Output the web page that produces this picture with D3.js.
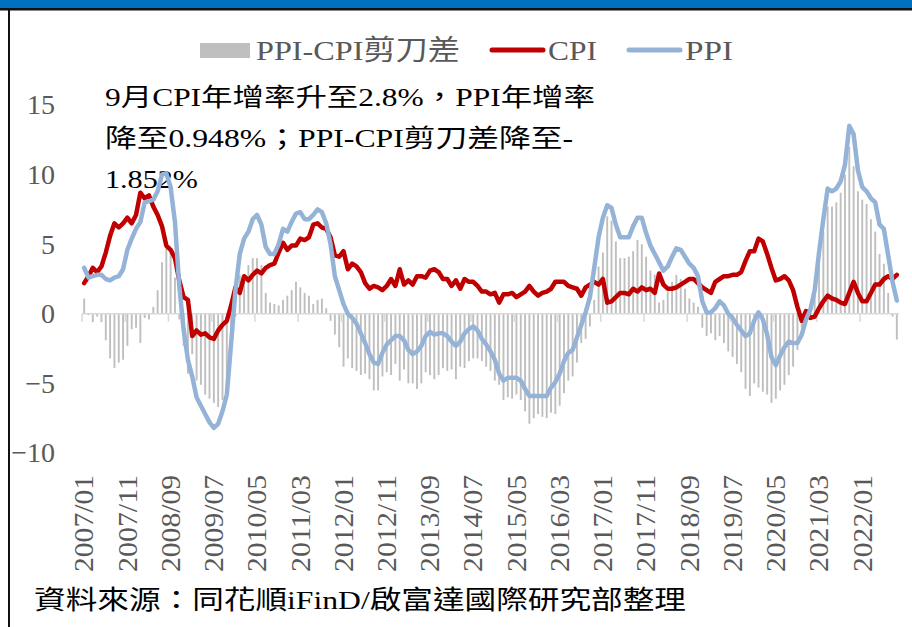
<!DOCTYPE html>
<html>
<head>
<meta charset="utf-8">
<script src="https://cdn.jsdelivr.net/npm/d3@7"></script>
<style>
  body { margin: 0; background: #fff; }
  svg { display: block; }
</style>
</head>
<body>
<script>
var svgWidth = 912;
var svgHeight = 627;

// monthly categories 2007/01 .. 2022/09
var months = [];
d3.range(2007, 2023).forEach(function(yr) {
  d3.range(1, 13).forEach(function(m) {
    if (yr === 2022 && m > 9) return;
    months.push(yr + "/" + (m < 10 ? "0" + m : m));
  });
});

var tickLabels = ["2007/01", "2007/11", "2008/09", "2009/07", "2010/05", "2011/03",
  "2012/01", "2012/11", "2013/09", "2014/07", "2015/05", "2016/03", "2017/01",
  "2017/11", "2018/09", "2019/07", "2020/05", "2021/03", "2022/01"];

var yTicks = [-10, -5, 0, 5, 10, 15];

// CPI year-on-year, %
var cpi = [
  2.2, 2.7, 3.3, 3.0, 3.4, 4.4, 5.6, 6.5, 6.2, 6.5, 6.9, 6.5,
  7.1, 8.7, 8.3, 8.5, 7.7, 7.1, 6.3, 4.9, 4.6, 4.0, 2.4, 1.2,
  1.0, -1.6, -1.2, -1.5, -1.4, -1.7, -1.8, -1.2, -0.8, -0.5, 0.6, 1.9,
  1.5, 2.7, 2.4, 2.8, 3.1, 2.9, 3.3, 3.5, 3.6, 4.4, 5.1, 4.6,
  4.9, 4.9, 5.4, 5.3, 5.5, 6.4, 6.5, 6.2, 6.1, 5.5, 4.2, 4.1,
  4.5, 3.2, 3.6, 3.4, 3.0, 2.2, 1.8, 2.0, 1.9, 1.7, 2.0, 2.5,
  2.0, 3.2, 2.1, 2.4, 2.1, 2.7, 2.7, 2.6, 3.1, 3.2, 3.0, 2.5,
  2.5, 2.0, 2.4, 1.8, 2.5, 2.3, 2.3, 2.0, 1.6, 1.6, 1.4, 1.5,
  0.8, 1.4, 1.4, 1.5, 1.2, 1.4, 1.6, 2.0, 1.6, 1.3, 1.5, 1.6,
  1.8, 2.3, 2.3, 2.3, 2.0, 1.9, 1.8, 1.3, 1.9, 2.1, 2.3, 2.1,
  2.5, 0.8, 0.9, 1.2, 1.5, 1.5, 1.4, 1.8, 1.6, 1.9, 1.7, 1.8,
  1.5, 2.9, 2.1, 1.8, 1.8, 1.9, 2.1, 2.3, 2.5, 2.5, 2.2, 1.9,
  1.7, 1.5, 2.3, 2.5, 2.7, 2.7, 2.8, 2.8, 3.0, 3.8, 4.5, 4.5,
  5.4, 5.2, 4.3, 3.3, 2.4, 2.5, 2.7, 2.4, 1.7, 0.5, -0.5, 0.2,
  -0.3, -0.2, 0.4, 0.9, 1.3, 1.1, 1.0, 0.8, 0.7, 1.5, 2.3, 1.5,
  0.9, 0.9, 1.5, 2.1, 2.1, 2.5, 2.7, 2.5, 2.8
];

// PPI year-on-year, %
var ppi = [
  3.3, 2.6, 2.7, 2.8, 2.8, 2.5, 2.4, 2.6, 2.7, 3.2, 4.6, 5.4,
  6.1, 6.6, 8.0, 8.1, 8.2, 8.8, 10.0, 10.1, 9.1, 6.6, 2.0, -1.1,
  -3.3, -4.5, -6.0, -6.6, -7.2, -7.8, -8.2, -7.9, -7.0, -5.8, -2.1, 1.7,
  4.3, 5.4, 5.9, 6.8, 7.1, 6.4, 4.8, 4.3, 4.3, 5.0, 6.1, 5.9,
  6.6, 7.2, 7.3, 6.8, 6.8, 7.1, 7.5, 7.3, 6.5, 5.0, 2.7, 1.7,
  0.7, 0.0, -0.3, -0.7, -1.4, -2.1, -2.9, -3.5, -3.6, -2.8, -2.2, -1.9,
  -1.6, -1.6, -1.9, -2.6, -2.9, -2.7, -2.3, -1.6, -1.3, -1.5, -1.4, -1.4,
  -1.6, -2.0, -2.3, -2.0, -1.4, -1.1, -0.9, -1.2, -1.8, -2.2, -2.7, -3.3,
  -4.3, -4.8, -4.6, -4.6, -4.6, -4.8, -5.4, -5.9, -5.9, -5.9, -5.9, -5.9,
  -5.3, -4.9, -4.3, -3.4, -2.8, -2.6, -1.7, -0.8, 0.1, 1.2, 3.3, 5.5,
  6.9, 7.8, 7.6, 6.4, 5.5, 5.5, 5.5, 6.3, 6.9, 6.9, 5.8, 4.9,
  4.3, 3.7, 3.1, 3.4, 4.1, 4.7, 4.6, 4.1, 3.6, 3.3, 2.7, 0.9,
  0.1, 0.1, 0.4, 0.9, 0.6, 0.0, -0.3, -0.8, -1.2, -1.6, -1.4, -0.5,
  0.1, -0.4, -1.5, -3.1, -3.7, -3.0, -2.4, -2.0, -2.1, -2.1, -1.5, -0.4,
  0.3, 1.7, 4.4, 6.8, 9.0, 8.8, 9.0, 9.5, 10.7, 13.5, 12.9, 10.3,
  9.1, 8.8, 8.3, 8.0, 6.4, 6.1, 4.2, 2.3, 0.948
];

// PPI-CPI scissors gap, %
var gap = [
  1.1, -0.1, -0.6, -0.2, -0.6, -1.9, -3.2, -3.9, -3.5, -3.3, -2.3, -1.1,
  -1.0, -2.1, -0.3, -0.4, 0.5, 1.7, 3.7, 5.2, 4.5, 2.6, -0.4, -2.3,
  -4.3, -2.9, -4.8, -5.1, -5.8, -6.1, -6.4, -6.7, -6.2, -5.3, -2.7, -0.2,
  2.8, 2.7, 3.5, 4.0, 4.0, 3.5, 1.5, 0.8, 0.7, 0.6, 1.0, 1.3,
  1.7, 2.3, 1.9, 1.5, 1.3, 0.7, 1.0, 1.1, 0.4, -0.5, -1.5, -2.4,
  -3.8, -3.2, -3.9, -4.1, -4.4, -4.3, -4.7, -5.5, -5.5, -4.5, -4.2, -4.4,
  -3.6, -4.8, -4.0, -5.0, -5.0, -5.4, -5.0, -4.2, -4.4, -4.7, -4.4, -3.9,
  -4.1, -4.0, -4.7, -3.8, -3.9, -3.4, -3.2, -3.2, -3.4, -3.8, -4.1, -4.8,
  -5.1, -6.2, -6.0, -6.1, -5.8, -6.2, -7.0, -7.9, -7.5, -7.2, -7.4, -7.5,
  -7.1, -7.2, -6.6, -5.7, -4.8, -4.5, -3.5, -2.1, -1.8, -0.9, 1.0, 3.4,
  4.4, 7.0, 6.7, 5.2, 4.0, 4.0, 4.1, 4.5, 5.3, 5.0, 4.1, 3.1,
  2.8, 0.8, 1.0, 1.6, 2.3, 2.8, 2.5, 1.8, 1.1, 0.8, 0.5, -1.0,
  -1.6, -1.4, -1.9, -1.6, -2.1, -2.7, -3.1, -3.6, -4.2, -5.4, -5.9, -5.0,
  -5.3, -5.6, -5.8, -6.4, -6.1, -5.5, -5.1, -4.4, -3.8, -2.6, -1.0, -0.6,
  0.6, 1.9, 4.0, 5.9, 7.7, 7.7, 8.0, 8.7, 10.0, 12.0, 10.6, 8.8,
  8.2, 7.9, 6.8, 5.9, 4.3, 3.6, 1.5, -0.2, -1.852
];

var noteLines = ["9月CPI年增率升至2.8%，PPI年增率", "降至0.948%；PPI-CPI剪刀差降至-", "1.852%"];
var sourceText = "資料來源：同花順iFinD/啟富達國際研究部整理";

var serif = "'Liberation Serif', 'Times New Roman', 'Noto Sans CJK TC', serif";

var svg = d3.select("body")
  .append("svg")
  .attr("width", svgWidth)
  .attr("height", svgHeight);

// frame: blue band on top, black rule, left border
svg.append("rect").attr("x", 0).attr("y", 0).attr("width", svgWidth).attr("height", 8).attr("fill", "#0070C0");
svg.append("rect").attr("x", 0).attr("y", 8).attr("width", svgWidth).attr("height", 2.5).attr("fill", "#111");
svg.append("rect").attr("x", 8).attr("y", 8).attr("width", 2).attr("height", svgHeight).attr("fill", "#111");

var x = d3.scaleBand()
  .domain(months)
  .range([82, 899])
  .padding(0);

var y = d3.scaleLinear()
  .domain([-10, 15])
  .range([453, 105]);

var bw = x.bandwidth();

// annotation text box (under the lines)
var noteBase = [106, 147, 188];
var noteLen = [490, 468, 93];
svg.append("g").selectAll("text")
  .data(noteLines)
  .enter()
  .append("text")
  .attr("x", 105)
  .attr("y", (d, i) => noteBase[i])
  .attr("textLength", (d, i) => noteLen[i])
  .attr("lengthAdjust", "spacingAndGlyphs")
  .style("font-family", serif)
  .style("font-size", "25px")
  .attr("fill", "#000")
  .text(d => d);

// y axis labels
var yAxis = svg.append("g")
  .attr("transform", "translate(60,0)")
  .call(d3.axisLeft(y).tickValues(yTicks).tickSize(0).tickPadding(5).tickFormat(d3.format("d")));
yAxis.select(".domain").remove();
yAxis.selectAll("text")
  .style("font-family", serif)
  .style("font-size", "28px")
  .attr("fill", "#595959");

// gap bars
svg.append("g").selectAll("rect")
  .data(gap)
  .enter()
  .append("rect")
  .attr("x", (d, i) => x(months[i]) + bw * 0.28)
  .attr("width", bw * 0.44)
  .attr("y", d => y(Math.max(0, d)))
  .attr("height", d => Math.abs(y(d) - y(0)))
  .attr("fill", "#BFBFBF");

// zero line and category ticks
svg.append("line")
  .attr("x1", x.range()[0]).attr("x2", x.range()[1])
  .attr("y1", y(0)).attr("y2", y(0))
  .attr("stroke", "#D9D9D9").attr("stroke-width", 1.5);

svg.append("g").selectAll("line")
  .data(tickLabels)
  .enter()
  .append("line")
  .attr("x1", d => x(d)).attr("x2", d => x(d))
  .attr("y1", y(0)).attr("y2", y(0) + 8)
  .attr("stroke", "#D9D9D9").attr("stroke-width", 1.5);

// x axis labels, rotated
var xAxis = svg.append("g")
  .attr("transform", "translate(0,475)")
  .call(d3.axisBottom(x).tickValues(tickLabels).tickSize(0));
xAxis.select(".domain").remove();
xAxis.selectAll("text")
  .attr("transform", "rotate(-90)")
  .attr("x", 0)
  .attr("y", 0)
  .attr("dy", "0.33em")
  .attr("textLength", 97)
  .attr("lengthAdjust", "spacingAndGlyphs")
  .style("text-anchor", "end")
  .style("font-family", serif)
  .style("font-size", "28px")
  .attr("fill", "#595959");

var drawLine = d3.line()
  .x((d, i) => x(months[i]) + bw / 2)
  .y(d => y(d));

svg.append("path")
  .attr("d", drawLine(cpi))
  .attr("fill", "none")
  .attr("stroke", "#C00000")
  .attr("stroke-width", 4.5)
  .attr("stroke-linejoin", "round")
  .attr("stroke-linecap", "round");

svg.append("path")
  .attr("d", drawLine(ppi))
  .attr("fill", "none")
  .attr("stroke", "#95B3D7")
  .attr("stroke-width", 4.5)
  .attr("stroke-linejoin", "round")
  .attr("stroke-linecap", "round");

// legend
var legend = svg.append("g").style("font-family", serif).style("font-size", "28px").attr("fill", "#595959");
legend.append("rect").attr("x", 200).attr("y", 43).attr("width", 50).attr("height", 15).attr("fill", "#BFBFBF");
legend.append("text").attr("x", 256).attr("y", 60).attr("textLength", 204).attr("lengthAdjust", "spacingAndGlyphs").text("PPI-CPI剪刀差");
legend.append("line").attr("x1", 492).attr("x2", 543).attr("y1", 50).attr("y2", 50)
  .attr("stroke", "#C00000").attr("stroke-width", 5).attr("stroke-linecap", "round");
legend.append("text").attr("x", 548).attr("y", 60).attr("textLength", 49).attr("lengthAdjust", "spacingAndGlyphs").text("CPI");
legend.append("line").attr("x1", 629).attr("x2", 680).attr("y1", 50).attr("y2", 50)
  .attr("stroke", "#95B3D7").attr("stroke-width", 5).attr("stroke-linecap", "round");
legend.append("text").attr("x", 685).attr("y", 60).attr("textLength", 48).attr("lengthAdjust", "spacingAndGlyphs").text("PPI");

// source note
svg.append("text")
  .attr("x", 34)
  .attr("y", 609)
  .attr("textLength", 652)
  .attr("lengthAdjust", "spacingAndGlyphs")
  .style("font-family", serif)
  .style("font-size", "26px")
  .attr("fill", "#000")
  .text(sourceText);
</script>
</body>
</html>
